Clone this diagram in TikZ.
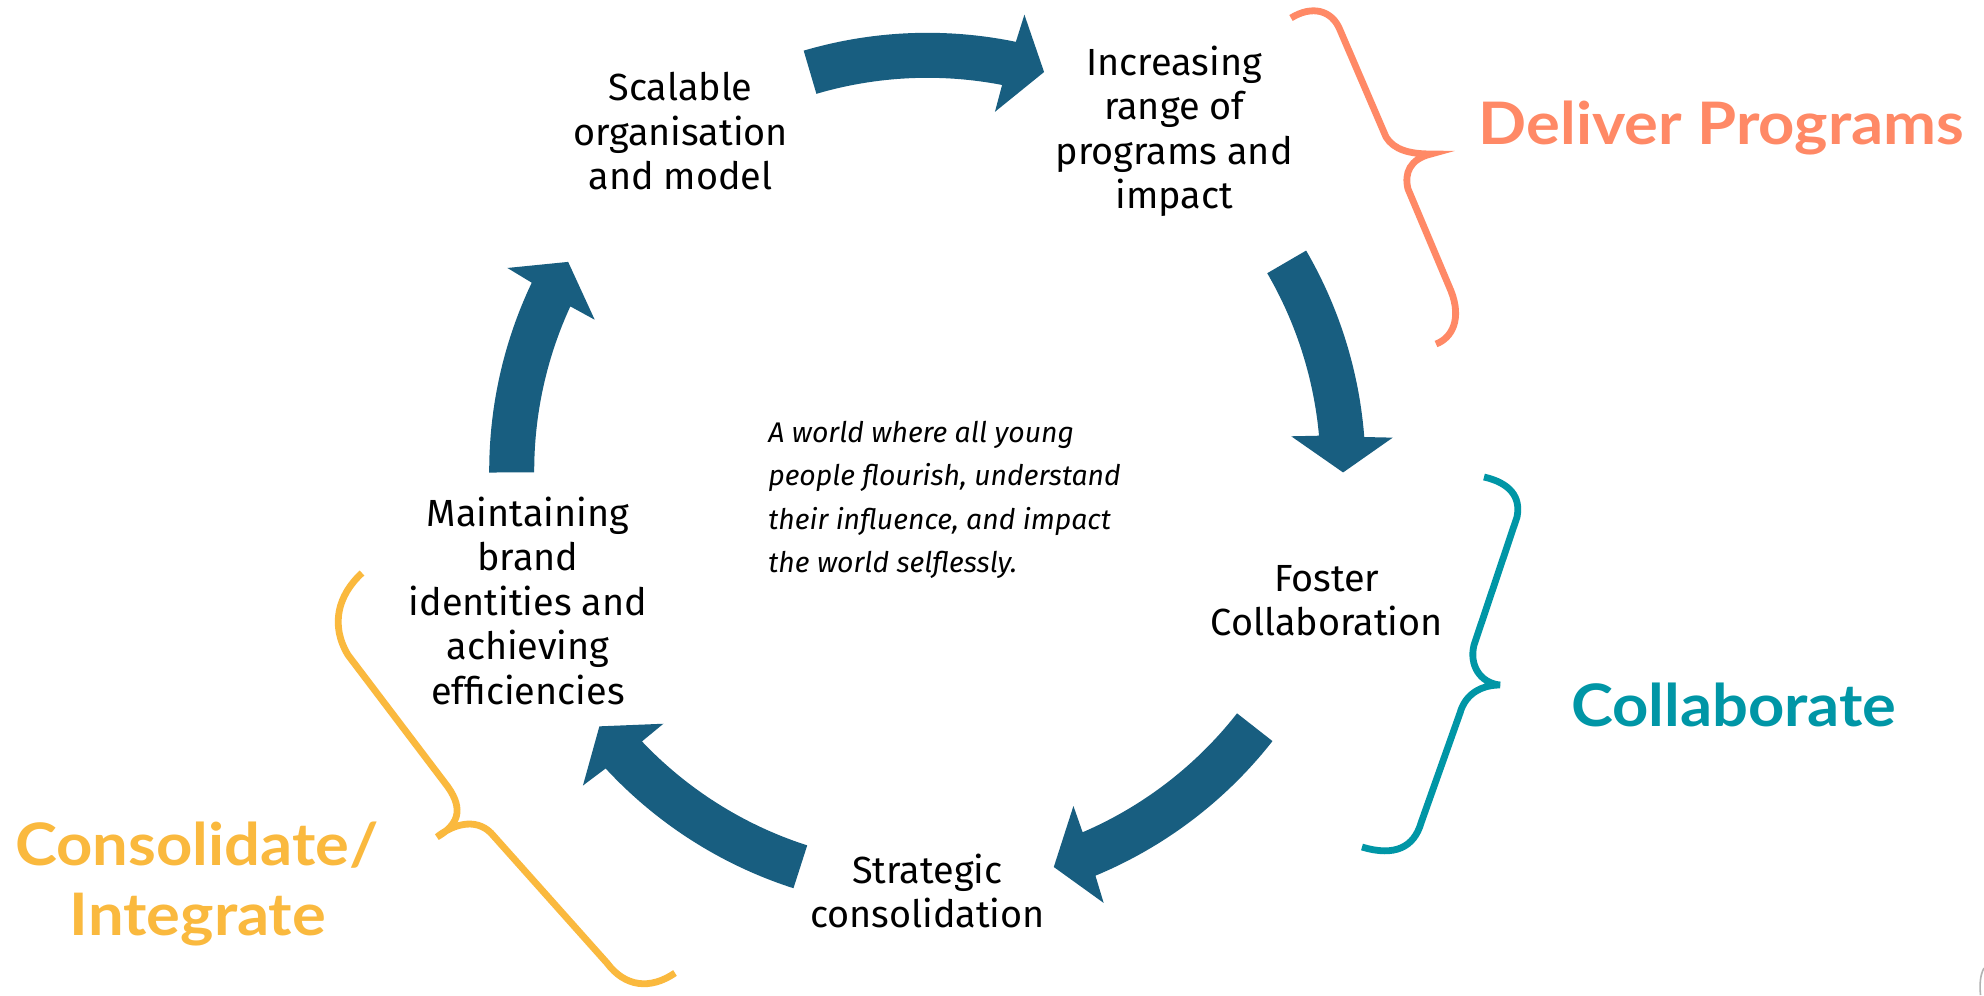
\documentclass[tikz,border=0pt]{standalone}
\usepackage{fontspec}
\setmainfont{Fira Sans}
\newfontfamily\headfont{Lato}[FakeStretch=1.08]
\definecolor{arrowblue}{RGB}{24,94,128}
\definecolor{coralc}{RGB}{255,137,102}
\definecolor{tealc}{RGB}{0,150,166}
\definecolor{yellowc}{RGB}{250,185,62}
\newcommand\cycRo{438.2}
\newcommand\cycRi{393.2}
\newcommand\cycRh{466.5}
\newcommand\cycRl{365.5}
\newcommand\cycRm{415.7}
\newcommand\cycarrow[3]{%
  \fill[cyc] ([shift={(#1:\cycRo)}]c) arc[start angle=#1, end angle={#2-0.35}, radius=\cycRo]
    -- ([shift={({#2-0.7}:\cycRh)}]c) -- ([shift={(#3:\cycRm)}]c) -- ([shift={({#2+0.65}:\cycRl)}]c)
    -- ([shift={({#2+0.35}:\cycRi)}]c) arc[start angle={#2+0.35}, end angle=#1, radius=\cycRi] -- cycle;}
\begin{document}
\begin{tikzpicture}[x=0.5bp,y=0.5bp,
  lbl/.style={align=center, font={\fontsize{18.9bp}{22.25bp}\selectfont}, inner sep=0pt},
  vision/.style={align=left, font={\fontsize{14.2bp}{21.65bp}\selectfont\itshape}, inner sep=0pt, anchor=west},
  head/.style={font={\headfont\bfseries\fontsize{29.3bp}{35bp}\selectfont}, inner sep=0pt, anchor=base},
  bracel/.style={line width=3.4bp},
  cyc/.style={fill=arrowblue}]
\fill[white] (0,0) rectangle (1984,995);
\useasboundingbox (0,0) rectangle (1984,995);
\coordinate (c) at (927.4,524);
% cycle arrows
\cycarrow{106.4}{78.7}{73.7}
\cycarrow{30.2}{4.8}{-0.2}
\cycarrow{-38.05}{-67.1}{-72.3}
\cycarrow{-107.8}{-136.9}{-142.1}
\cycarrow{180.2}{154.9}{149.8}
% stage labels
\node[lbl] (scal) at ([shift={(126:420)}]c) {Scalable\\organisation\\and model};
\node[lbl] (incr) at ([shift={(54:420)}]c) {Increasing\\range of\\programs and\\impact};
\node[lbl] (fost) at ([shift={(-18:420)}]c) {Foster\\Collaboration};
\node[lbl] (strat) at ([shift={(-90:420)}]c) {Strategic\\consolidation};
\node[lbl] (maint) at ([shift={(-162:420)}]c) {Maintaining\\brand\\identities and\\achieving\\efficiencies};
\node[vision] (vis) at (768,495) {A world where all young\\people flourish, understand\\their influence, and impact\\the world selflessly.};
% braces
\draw[bracel, coralc] (1291,977) .. controls (1312,990) and (1332,985) .. (1340,965) -- (1386,858) .. controls (1394,845) and (1410,841) .. (1431,841) .. controls (1410,836) and (1404,822) .. (1408,806) -- (1451,704) .. controls (1462,676) and (1452,657) .. (1436,651);
\draw[bracel, tealc] (1484,518) .. controls (1510,512) and (1521,498) .. (1517,478) -- (1474,350) .. controls (1469,330) and (1480,312) .. (1500,310) .. controls (1480,310) and (1465,300) .. (1460,282) -- (1421,172) .. controls (1414,148) and (1395,138) .. (1362,148);
\draw[bracel, yellowc] (362,422) .. controls (338,400) and (330,370) .. (348,340) -- (448,208) .. controls (464,185) and (458,170) .. (437,158) .. controls (452,170) and (475,178) .. (491,162) -- (607,32) .. controls (625,8) and (650,5) .. (675,22);
% group headings
\node[head, text=coralc] (dp) at (1721.5,850) {Deliver Programs};
\node[head, text=tealc] (col) at (1733.8,268.3) {Collaborate};
\node[head, text=yellowc] (consA) at (197,130) {Consolidate/};
\node[head, text=yellowc] (consB) at (198,60) {Integrate};
% corner mark
\draw[gray!60, line width=0.8bp] (1984,27) .. controls (1980,20) and (1979.5,10) .. (1980.5,0);
\end{tikzpicture}
\end{document}
